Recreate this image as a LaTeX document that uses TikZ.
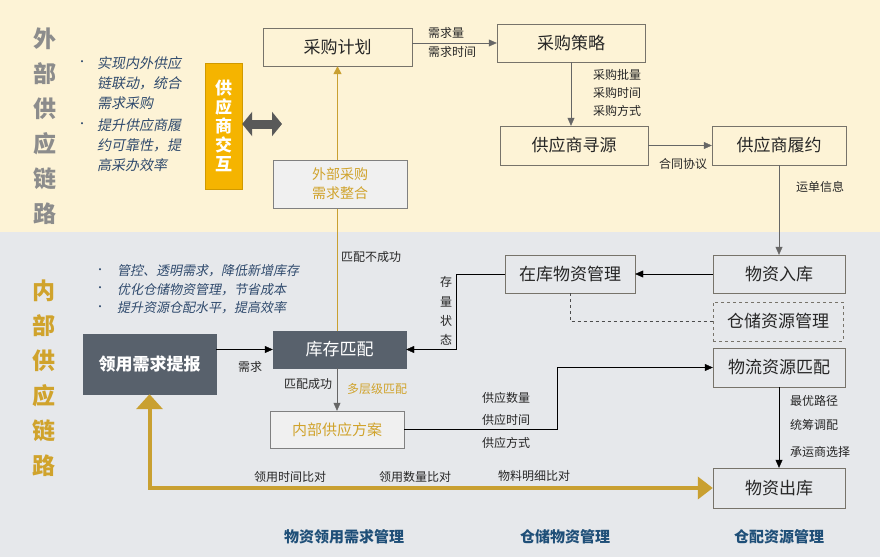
\documentclass[tikz,border=0pt]{standalone}
\usepackage{fontspec}
\setmainfont{Noto Sans CJK SC}
\newfontfamily\slantfont[FakeSlant = 0.2]{Noto Sans CJK SC}
\usetikzlibrary{arrows.meta}
\definecolor{cream}{HTML}{FDF3D6}
\definecolor{band}{HTML}{E6E8EB}
\definecolor{frame}{HTML}{77736A}
\definecolor{slate}{HTML}{58616C}
\definecolor{gold}{HTML}{C9A031}
\definecolor{goldtext}{HTML}{D0A32C}
\definecolor{amber}{HTML}{F5B400}
\definecolor{navy}{HTML}{2F4A6D}
\definecolor{titleblue}{HTML}{1F4F78}
\tikzset{
	box/.style = {draw = frame, minimum height = 38pt, inner sep = 0pt, text = black!85, font = \fontsize{17}{20}\selectfont},
	darkbox/.style = {box, fill = slate, draw = slate, text = white},
	softbox/.style = {box, fill = white!94!black, draw = gray, text = goldtext, font = \fontsize{14}{19}\selectfont},
	note/.style = {inner sep = 0pt, text = black!85, font = \fontsize{12}{14}\selectfont},
	bullets/.style = {inner sep = 0pt, align = left, text = navy},
	flow/.style = {draw = black!60, -{Triangle[length = 8pt, width = 7pt]}},
	link/.style = {draw = black, -{Triangle[length = 8pt, width = 7pt]}}
}
\begin{document}
\begin{tikzpicture}[x = 1pt, y = -1pt]
	\useasboundingbox ( 0, 0 ) rectangle ( 889, 557 );
	\fill [white] ( 0, 0 ) rectangle ( 889, 557 );
	\fill [cream] ( 0, 0 ) rectangle ( 880, 232 );
	\fill [band] ( 0, 232 ) rectangle ( 880, 557 );

	% side titles
	\node [align = center, text = black!45, font = \fontsize{23}{35}\selectfont\bfseries] (outer) at ( 45, 126 ) {外\\部\\供\\应\\链\\路};
	\node [align = center, text = goldtext, font = \fontsize{23}{35}\selectfont\bfseries] (inner) at ( 44, 378 ) {内\\部\\供\\应\\链\\路};

	% goals
	\node [text = navy] (dot1) at ( 82, 63 ) {•};
	\node [text = navy] (dot2) at ( 82, 125 ) {•};
	\node [bullets, anchor = west, font = \fontsize{14}{20}\slantfont] (aim1) at ( 97, 83 ) {实现内外供应\\链联动，统合\\需求采购};
	\node [bullets, anchor = west, font = \fontsize{14}{20}\slantfont] (aim2) at ( 97, 145 ) {提升供应商履\\约可靠性，提\\高采办效率};
	\node [text = navy] (dot3) at ( 100, 271 ) {•};
	\node [text = navy] (dot4) at ( 100, 289.5 ) {•};
	\node [text = navy] (dot5) at ( 100, 308 ) {•};
	\node [bullets, anchor = west, font = \fontsize{13}{18.5}\slantfont] (aim3) at ( 117, 289.5 ) {管控、透明需求，降低新增库存\\优化仓储物资管理，节省成本\\提升资源仓配水平，提高效率};

	% boxes
	\node [box, minimum width = 149pt] (plan) at ( 337.5, 47 ) {采购计划};
	\node [box, minimum width = 148pt] (strategy) at ( 571, 43 ) {采购策略};
	\node [box, minimum width = 148pt, minimum height = 39pt] (sourcing) at ( 574, 145.5 ) {供应商寻源};
	\node [box, minimum width = 134pt, minimum height = 39pt] (fulfil) at ( 779, 145.5 ) {供应商履约};
	\node [box, minimum width = 130pt] (stock) at ( 570, 274 ) {在库物资管理};
	\node [box, minimum width = 132pt] (inbound) at ( 779, 274 ) {物资入库};
	\node [box, dashed, minimum width = 130pt, minimum height = 39pt] (storage) at ( 778, 321.5 ) {仓储资源管理};
	\node [box, minimum width = 132pt, minimum height = 39pt] (logistics) at ( 779, 367.5 ) {物流资源匹配};
	\node [box, minimum width = 132pt, minimum height = 40pt] (outbound) at ( 779, 488 ) {物资出库};
	\node [darkbox, minimum width = 133pt, minimum height = 60pt, font = \fontsize{17}{20}\selectfont\bfseries] (request) at ( 149.5, 364 ) {领用需求提报};
	\node [darkbox, minimum width = 133pt, minimum height = 37pt] (matching) at ( 339.5, 349.5 ) {库存匹配};
	\node [softbox, minimum width = 134pt, minimum height = 37pt, font = \fontsize{15}{19}\selectfont] (internal) at ( 337, 429.5 ) {内部供应方案};
	\node [draw = amber!85!black, fill = amber, minimum width = 37pt, minimum height = 126pt, inner sep = 0pt, align = center, text = white, font = \fontsize{17}{19}\selectfont\bfseries] (supplier) at ( 223.5, 126 ) {供\\应\\商\\交\\互};

	% external demand goes up
	\draw [gold, line width = 1.6pt, -{Triangle[length = 8pt, width = 8pt]}] (plan.south|-matching.north) -- (plan.south);
	\node [softbox, minimum width = 134pt, minimum height = 48pt, align = center] (external) at ( 340, 184 ) {外部采购\\需求整合};
	\node [note, anchor = west] at ( 341, 257 ) {匹配不成功};

	\coordinate (grip) at ( 282, 124 );
	\draw [black!65, line width = 9pt, {Triangle[length = 10pt, width = 24pt]}-{Triangle[length = 10pt, width = 24pt]}] (supplier.east|-grip) -- (grip);

	% outer chain
	\draw [flow] (plan.east|-strategy.west) -- (strategy.west);
	\node [note, anchor = west] at ( 428, 33 ) {需求量};
	\node [note, anchor = west] at ( 428, 52 ) {需求时间};
	\draw [flow] (strategy.south) -- (strategy.south|-sourcing.north);
	\node [note, anchor = west] at ( 593, 75 ) {采购批量};
	\node [note, anchor = west] at ( 593, 93 ) {采购时间};
	\node [note, anchor = west] at ( 593, 111 ) {采购方式};
	\draw [flow] (sourcing.east) -- (fulfil.west);
	\node [note] at ( 683, 164 ) {合同协议};
	\draw [flow] (fulfil.south) -- (inbound.north);
	\node [note] at ( 820, 187 ) {运单信息};

	% inner chain
	\draw [link] (inbound.west) -- (stock.east);
	\coordinate (bend) at ( 456, 274 );
	\draw [link] (stock.west) -- (bend) |- (matching.east);
	\node [note, align = center, font = \fontsize{12}{19.3}\selectfont] at ( 446, 311 ) {存\\量\\状\\态};
	\draw [dashed, black!70] (stock.south) |- (storage.west);
	\draw [link] (request.east|-matching.west) -- (matching.west);
	\node [note] at ( 250, 367 ) {需求};
	\draw [flow] (internal.north|-matching.south) -- (internal.north);
	\node [note] at ( 308, 384 ) {匹配成功};
	\node [note, text = goldtext] at ( 377, 389 ) {多层级匹配};
	\coordinate (turn) at ( 557, 429.5 );
	\draw [link] (internal.east) -- (turn) |- (logistics.west);
	\node [note] at ( 506, 398 ) {供应数量};
	\node [note] at ( 506, 420 ) {供应时间};
	\node [note] at ( 506, 443 ) {供应方式};
	\draw [link] (logistics.south) -- (outbound.north);
	\node [note, anchor = west] at ( 790, 401 ) {最优路径};
	\node [note, anchor = west] at ( 790, 425 ) {统筹调配};
	\node [note, anchor = west] at ( 790, 452 ) {承运商选择};

	% check back loop
	\draw [gold, line width = 4pt, line join = miter, {Triangle[length = 15pt, width = 26pt]}-{Triangle[length = 15pt, width = 22pt]}] (request.south) -- (request.south|-outbound.west) -- (outbound.west);
	\node [note] at ( 290, 477 ) {领用时间比对};
	\node [note] at ( 415, 477 ) {领用数量比对};
	\node [note] at ( 534, 476 ) {物料明细比对};

	% areas
	\node [text = titleblue, font = \fontsize{15}{18}\selectfont\bfseries] at ( 344, 537 ) {物资领用需求管理};
	\node [text = titleblue, font = \fontsize{15}{18}\selectfont\bfseries] at ( 565, 537 ) {仓储物资管理};
	\node [text = titleblue, font = \fontsize{15}{18}\selectfont\bfseries] at ( 779, 537 ) {仓配资源管理};
\end{tikzpicture}
\end{document}
